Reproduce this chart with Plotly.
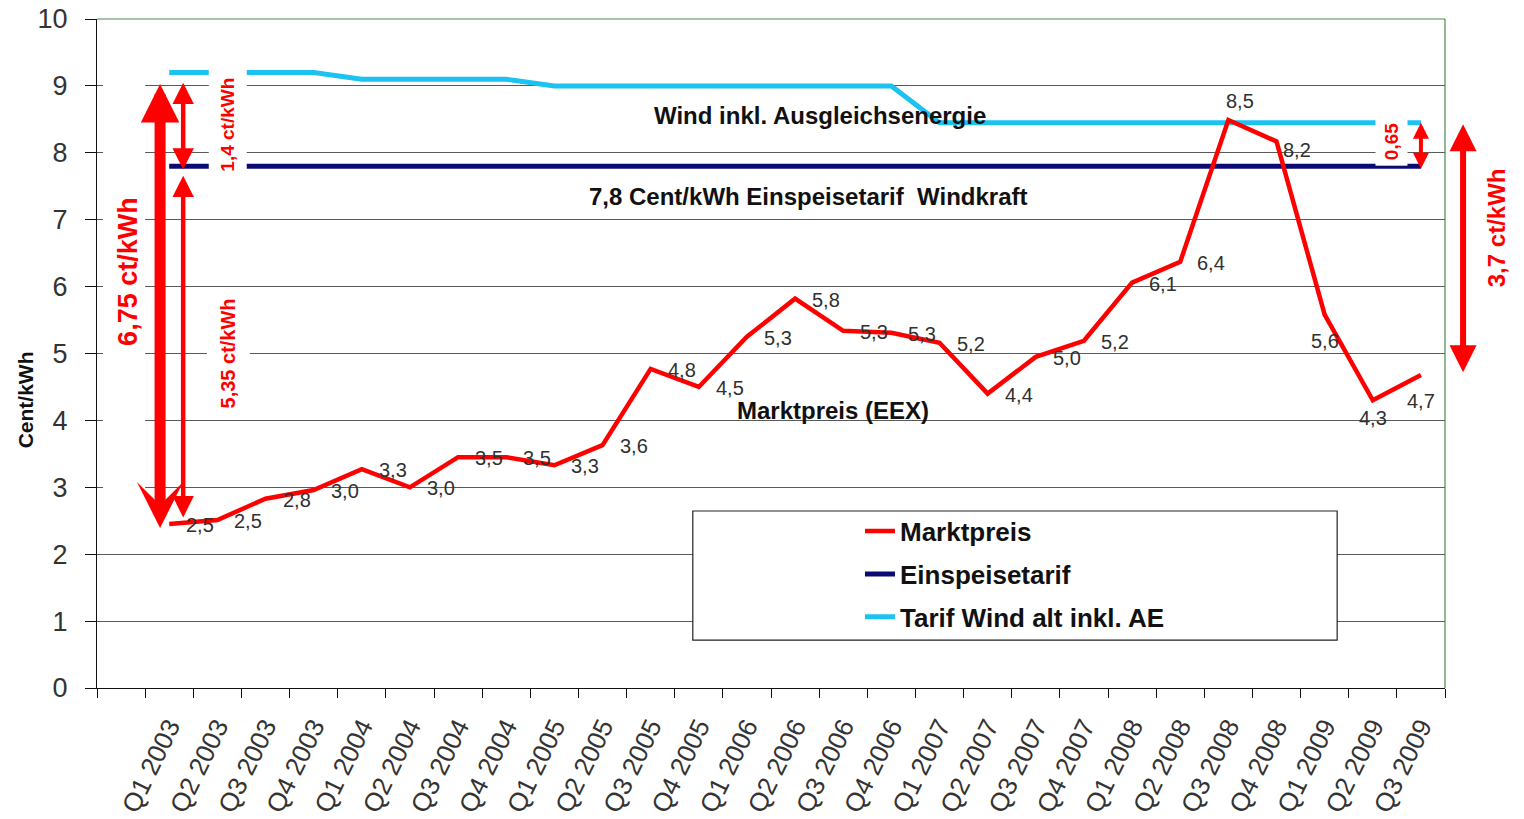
import plotly.graph_objects as go

# ---------------- data ----------------
quarters = ["Q1 2003", "Q2 2003", "Q3 2003", "Q4 2003",
            "Q1 2004", "Q2 2004", "Q3 2004", "Q4 2004",
            "Q1 2005", "Q2 2005", "Q3 2005", "Q4 2005",
            "Q1 2006", "Q2 2006", "Q3 2006", "Q4 2006",
            "Q1 2007", "Q2 2007", "Q3 2007", "Q4 2007",
            "Q1 2008", "Q2 2008", "Q3 2008", "Q4 2008",
            "Q1 2009", "Q2 2009", "Q3 2009"]

marktpreis = [2.45, 2.51, 2.83, 2.96, 3.27, 3.00, 3.45, 3.45, 3.33, 3.63,
              4.77, 4.50, 5.25, 5.82, 5.34, 5.31, 5.16, 4.40, 4.95, 5.19,
              6.06, 6.37, 8.49, 8.17, 5.58, 4.30, 4.68]
marktpreis_labels = ["2,5", "2,5", "2,8", "3,0", "3,3", "3,0", "3,5", "3,5", "3,3", "3,6",
                     "4,8", "4,5", "5,3", "5,8", "5,3", "5,3", "5,2", "4,4", "5,0", "5,2",
                     "6,1", "6,4", "8,5", "8,2", "5,6", "4,3", "4,7"]
einspeisetarif = [7.8, 7.8, 7.8, 7.8, 7.8, 7.8, 7.8, 7.8, 7.8, 7.8,
                  7.8, 7.8, 7.8, 7.8, 7.8, 7.8, 7.8, 7.8, 7.8, 7.8,
                  7.8, 7.8, 7.8, 7.8, 7.8, 7.8, 7.8]
tarif_wind_ae = [9.2, 9.2, 9.2, 9.2, 9.1, 9.1, 9.1, 9.1, 9.0, 9.0,
                 9.0, 9.0, 9.0, 9.0, 9.0, 9.0, 8.45, 8.45, 8.45, 8.45,
                 8.45, 8.45, 8.45, 8.45, 8.45, 8.45, 8.45]

# difference arrows: (value_top, value_bottom, label)
diff_14 = (9.07, 7.75, "1,4 ct/kWh")
diff_535 = (7.68, 2.55, "5,35 ct/kWh")
diff_675 = (9.05, 2.39, "6,75 ct/kWh")
diff_065 = (8.47, 7.76, "0,65")
diff_37 = (8.45, 4.72, "3,7 ct/kWh")

# ---------------- style ----------------
FONT = "Liberation Sans, Arial, sans-serif"
RED = "#FF0000"
NAVY = "#0A0A72"
CYAN = "#1CC3F0"
GRID = "#5a5a5a"
GREEN = "#4a8a4a"

categories = [" "] + quarters

fig = go.Figure()

fig.add_trace(go.Scatter(x=quarters, y=einspeisetarif, mode="lines", name="Einspeisetarif",
                         line=dict(color=NAVY, width=5), legendrank=2, legendgroup="b"))
fig.add_trace(go.Scatter(x=quarters, y=tarif_wind_ae, mode="lines", name="Tarif Wind alt inkl. AE",
                         line=dict(color=CYAN, width=5), legendrank=3, legendgroup="c"))
fig.add_trace(go.Scatter(x=quarters, y=marktpreis, mode="lines", name="Marktpreis",
                         line=dict(color=RED, width=4.5), legendrank=1, legendgroup="a"))

# data labels
label_offsets = {22: (12, -19), 23: (20, 9), 24: (0, 26), 25: (0, 18), 26: (0, 26)}
for i, (q, v, t) in enumerate(zip(quarters, marktpreis, marktpreis_labels)):
    dx, dy = label_offsets.get(i, (31, 1))
    fig.add_annotation(x=q, y=v, text=t, showarrow=False, xshift=dx, yshift=-dy,
                       font=dict(family=FONT, size=20, color="#303030"))

# white box behind the 6,75 label (covers gridlines only)
fig.add_shape(type="rect", xref="x", yref="y", x0=-0.375, x1=0.5, y0=2.6, y1=9.3,
              fillcolor="white", line=dict(width=0), layer="between")

# legend frame
fig.add_shape(type="rect", xref="paper", yref="paper", x0=0.442, x1=0.92, y0=0.0717, y1=0.2646,
              fillcolor="white", line=dict(color="#222", width=1.2), layer="above")

# green frame top / right
fig.add_shape(type="line", xref="paper", yref="paper", x0=0, x1=1, y0=1, y1=1,
              line=dict(color=GREEN, width=1.2), layer="above")
fig.add_shape(type="line", xref="paper", yref="paper", x0=1, x1=1, y0=0, y1=1,
              line=dict(color=GREEN, width=1.2), layer="above")


def darrow(x, top, bottom, width, size, xref="x", endhead=2, starthead=2):
    fig.add_annotation(x=x, y=bottom, xref=xref, yref="y", ax=0, ay=top,
                       axref="pixel", ayref="y", text="", showarrow=True,
                       arrowside="end+start", arrowhead=endhead, startarrowhead=starthead,
                       arrowsize=size, startarrowsize=size, arrowwidth=width,
                       arrowcolor=RED)


# left arrows
darrow(0.81, diff_675[0], diff_675[1], 11, 0.7, endhead=3, starthead=2)
darrow(1.29, diff_14[0], diff_14[1], 4.5, 0.95)
darrow(1.29, diff_535[0], diff_535[1], 4.5, 0.95)
# right arrows
darrow(27.0, diff_065[0], diff_065[1], 4, 0.8)
darrow(1.0134, diff_37[0], diff_37[1], 6, 0.9, xref="paper")

# arrow labels
fig.add_annotation(x=2.22, y=8.42, text="<b>" + diff_14[2] + "</b>", textangle=-90, showarrow=False,
                   font=dict(family=FONT, size=19, color=RED), bgcolor="white", borderpad=8)
fig.add_annotation(x=2.22, y=5.0, text="<b>" + diff_535[2] + "</b>", textangle=-90, showarrow=False,
                   font=dict(family=FONT, size=20, color=RED), bgcolor="white", borderpad=10)
fig.add_annotation(x=0.144, y=6.22, text="<b>" + diff_675[2] + "</b>", textangle=-90, showarrow=False,
                   font=dict(family=FONT, size=27, color=RED))
fig.add_annotation(x=26.38, y=8.16, text="<b>" + diff_065[2] + "</b>", textangle=-90, showarrow=False,
                   font=dict(family=FONT, size=19, color=RED), bgcolor="white", borderpad=5)
fig.add_annotation(x=1.0497, xref="paper", y=6.88, text="<b>" + diff_37[2] + "</b>", textangle=-90,
                   showarrow=False, font=dict(family=FONT, size=24, color=RED))

# text labels in the chart
fig.add_annotation(x=14.52, y=8.565, text="<b>Wind inkl. Ausgleichsenergie</b>", showarrow=False,
                   font=dict(family=FONT, size=24, color="#111"))
fig.add_annotation(x=14.27, y=7.34, text="<b>7,8 Cent/kWh Einspeisetarif  Windkraft</b>", showarrow=False,
                   font=dict(family=FONT, size=24, color="#111"))
fig.add_annotation(x=14.79, y=4.155, text="<b>Marktpreis (EEX)</b>", showarrow=False,
                   font=dict(family=FONT, size=24, color="#111"))

# y axis title
fig.add_annotation(x=-0.0534, xref="paper", y=0.43, yref="paper", text="<b>Cent/kWh</b>",
                   xanchor="center", yanchor="middle",
                   textangle=-90, showarrow=False, font=dict(family=FONT, size=21, color="#111"))

fig.update_layout(
    width=1524, height=819,
    margin=dict(l=97, r=79, t=19, b=131, autoexpand=False),
    paper_bgcolor="white", plot_bgcolor="white",
    font=dict(family=FONT, color="#333"),
    showlegend=True,
    legend=dict(x=0.566, y=0.2695, xanchor="left", yanchor="top",
                bgcolor="rgba(0,0,0,0)", borderwidth=0,
                font=dict(family=FONT, size=26, color="#111", weight="bold"),
                tracegroupgap=6, traceorder="grouped", itemwidth=30),
    xaxis=dict(type="category", categoryorder="array", categoryarray=categories,
               range=[-0.5, len(categories) - 0.5], automargin=False,
               showgrid=False, showline=True, linecolor="#111", linewidth=1.2,
               ticks="outside", tickson="boundaries", ticklen=9, tickcolor="#111",
               tickangle=-64, tickfont=dict(family=FONT, size=26, color="#333"),
               ticklabelstandoff=12, ticklabeloverflow="allow", zeroline=False, fixedrange=True),
    yaxis=dict(range=[0, 10], dtick=1, showgrid=True, gridcolor=GRID, gridwidth=1,
               showline=True, linecolor="#111", linewidth=1.2, automargin=False,
               ticks="outside", ticklen=11, tickcolor="#111", ticklabelstandoff=12,
               ticklabeloverflow="allow",
               tickfont=dict(family=FONT, size=27, color="#333"),
               zeroline=False, fixedrange=True),
)

# remove the browser's default body margin so the figure sits at the page origin
fig.write_html("out.html", config={"displayModeBar": False},
               post_script="document.body.style.margin='0px';")
